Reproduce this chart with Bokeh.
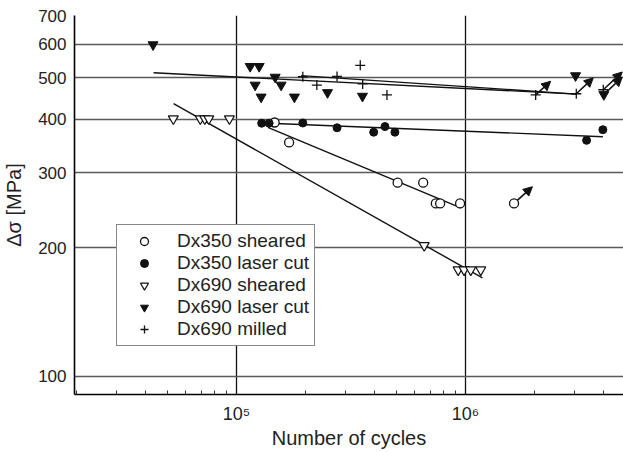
from bokeh.plotting import figure
from bokeh.models import (FixedTicker, Range1d, Legend, LegendItem, Arrow,
                          NormalHead, ColumnDataSource)
from bokeh.embed import file_html
from bokeh.resources import INLINE

FONT = "Liberation Sans"

# Fatigue test results: number of cycles to failure vs. stress range [MPa]
n_350_sheared = [146700, 169700, 505300, 653500, 742000, 775000, 947000, 1629000]
s_350_sheared = [393, 353, 284, 284, 254, 254, 254, 254]

n_350_laser = [128800, 138800, 194800, 274800, 397200, 445000, 491800, 3379000, 3980000]
s_350_laser = [391.5, 391.5, 392, 382, 373, 384.5, 373, 357, 378]

n_690_sheared = [52970, 69470, 72680, 75660, 93100, 660000, 929000, 986000, 1054000, 1166000]
s_690_sheared = [401, 401, 401, 401, 401, 202.4, 177.5, 177.5, 177.5, 177.5]

n_690_laser = [43200, 114700, 125600, 120600, 128100, 147500, 156600, 179000,
               249700, 354900, 3025000, 4020000]
s_690_laser = [598, 532, 532, 481, 451, 502, 481, 451, 462, 453, 506, 457]

n_690_milled = [194800, 224300, 274800, 347100, 355600, 453900, 2025000, 3047000, 3996000]
s_690_milled = [503, 481, 504, 535, 484, 456, 456, 459, 469]

# Run-outs (tests stopped without failure)
runout_n = [1629000, 2025000, 3047000, 3996000, 4020000]
runout_s = [254, 456, 459, 469, 457]
runout_n_tip = [1960000, 2355000, 3614000, 4836000, 4836000]
runout_s_tip = [278, 491, 500, 516, 502]

# Fitted S-N curves (end points)
fit_690_laser_n = [43440, 3057000]
fit_690_laser_s = [514, 458]
fit_690_milled_n = [191500, 3057000]
fit_690_milled_s = [506, 458]
fit_350_laser_n = [130700, 3980000]
fit_350_laser_s = [392, 364]
fit_350_sheared_n = [137000, 954000]
fit_350_sheared_s = [383, 248]
fit_690_sheared_n = [53100, 1186000]
fit_690_sheared_s = [435, 170]

y_ticks = [100, 200, 300, 400, 500, 600, 700]
x_ticks = [100000, 1000000]
x_tick_labels = ["10\u2075", "10\u2076"]
x_minor = [20000, 30000, 40000, 50000, 60000, 70000, 80000, 90000,
           200000, 300000, 400000, 500000, 600000, 700000, 800000, 900000,
           2000000, 3000000, 4000000]

p = figure(width=623, height=452, x_axis_type="log", y_axis_type="log",
           x_range=Range1d(19610, 4898000), y_range=Range1d(90.6, 700),
           output_backend="svg", toolbar_location=None,
           min_border_left=73, min_border_right=0, min_border_top=15,
           min_border_bottom=58)
p.outline_line_color = None
p.background_fill_color = "white"

# axes
p.xaxis.ticker = FixedTicker(ticks=x_ticks, minor_ticks=x_minor)
p.xaxis.major_label_overrides = dict(zip(x_ticks, x_tick_labels))
p.yaxis.ticker = FixedTicker(ticks=y_ticks, minor_ticks=[])
for ax in (p.xaxis, p.yaxis):
    ax.axis_line_color = "black"
    ax.axis_line_width = 1.6
    ax.major_tick_out = 0
    ax.major_tick_in = 0
    ax.major_label_text_font = FONT
    ax.major_label_text_font_size = "17px"
    ax.major_label_text_color = "#222222"
    ax.axis_label_text_font = FONT
    ax.axis_label_text_font_size = "20px"
    ax.axis_label_text_font_style = "normal"
    ax.axis_label_text_color = "#222222"
p.xaxis.major_label_text_font_size = "18px"
p.xaxis.minor_tick_in = 4
p.xaxis.minor_tick_out = 0
p.xaxis.minor_tick_line_color = "#333333"
p.yaxis.minor_tick_line_color = None
p.xaxis.major_label_standoff = 9
p.yaxis.major_label_standoff = 8
p.xaxis.axis_label = "Number of cycles"
p.yaxis.axis_label = "\u0394\u03c3 [MPa]"
p.xaxis.axis_label_standoff = 0
p.yaxis.axis_label_standoff = 10

# grid
p.xgrid.ticker = FixedTicker(ticks=x_ticks)
p.xgrid.grid_line_color = "#111111"
p.xgrid.grid_line_width = 1.3
p.ygrid.ticker = FixedTicker(ticks=y_ticks)
p.ygrid.grid_line_color = "#5a5a5a"
p.ygrid.grid_line_width = 1.5

# fitted curves
for xs, ys in [(fit_690_laser_n, fit_690_laser_s), (fit_690_milled_n, fit_690_milled_s),
               (fit_350_laser_n, fit_350_laser_s), (fit_350_sheared_n, fit_350_sheared_s),
               (fit_690_sheared_n, fit_690_sheared_s)]:
    p.line(xs, ys, line_color="#111111", line_width=1.4)

# run-out arrows
arrows = ColumnDataSource(dict(x0=runout_n, y0=runout_s, x1=runout_n_tip, y1=runout_s_tip))
p.add_layout(Arrow(source=arrows, x_start="x0", y_start="y0", x_end="x1", y_end="y1",
                   line_color="#111111", line_width=1.6, level="underlay",
                   end=NormalHead(size=9, fill_color="#111111", line_color="#111111")))

# test points
r1 = p.scatter(n_350_sheared, s_350_sheared, marker="circle", size=9,
               fill_color="white", line_color="#111111", line_width=1.3)
r2 = p.scatter(n_350_laser, s_350_laser, marker="circle", size=8,
               fill_color="#111111", line_color="#111111")
r3 = p.scatter(n_690_sheared, s_690_sheared, marker="inverted_triangle", size=10,
               fill_color="white", line_color="#111111", line_width=1.2)
r4 = p.scatter(n_690_laser, s_690_laser, marker="inverted_triangle", size=10,
               fill_color="#111111", line_color="#111111")
r5 = p.scatter(n_690_milled, s_690_milled, marker="cross", size=10,
               line_color="#111111", line_width=1.3)

legend = Legend(items=[
    LegendItem(label="Dx350 sheared", renderers=[r1]),
    LegendItem(label="Dx350 laser cut", renderers=[r2]),
    LegendItem(label="Dx690 sheared", renderers=[r3]),
    LegendItem(label="Dx690 laser cut", renderers=[r4]),
    LegendItem(label="Dx690 milled", renderers=[r5]),
], location=(42, 48))
legend.label_text_font = FONT
legend.label_text_font_size = "19px"
legend.label_text_color = "#222222"
legend.border_line_color = "#111111"
legend.border_line_width = 1.3
legend.background_fill_color = "white"
legend.background_fill_alpha = 1
legend.padding = 5
legend.spacing = 0
legend.glyph_width = 44
legend.glyph_height = 20
legend.label_height = 20
legend.label_standoff = 11
legend.margin = 0
p.add_layout(legend)

open("out.html", "w").write(file_html(p, INLINE))
